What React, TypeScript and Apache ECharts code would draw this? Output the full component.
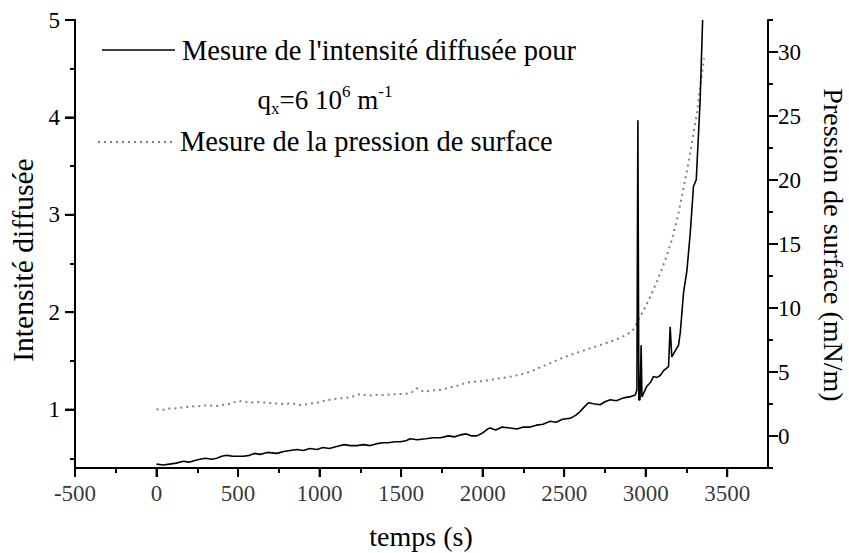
import React, { useEffect, useRef } from "react";
import * as echarts from "echarts";

// Intensity (left axis) — time (s) and value
const intensityTime = [
  0, 40, 80, 120, 165, 200, 240, 267, 300, 340, 369, 400, 431, 470, 500, 533, 570, 600, 635, 680,
  738, 780, 820, 860, 900, 940, 983, 1020, 1060, 1105, 1150, 1190, 1228, 1270, 1310, 1351, 1390, 1422, 1460, 1494,
  1530, 1555, 1600, 1650, 1698, 1740, 1790, 1830, 1862, 1900, 1930, 1964, 2000, 2030, 2046, 2080, 2120, 2169, 2210, 2250,
  2291, 2330, 2370, 2414, 2450, 2490, 2537, 2570, 2598, 2625, 2649, 2680, 2721, 2750, 2782, 2820, 2864, 2900, 2936, 2946,
  2952, 2958, 2965, 2972, 2977, 3007, 3030, 3048, 3070, 3089, 3110, 3140, 3150, 3160, 3180, 3201, 3212, 3232, 3253, 3273,
  3293, 3310, 3324, 3334, 3349,
];
const intensityValue = [
  0.44, 0.43, 0.44, 0.45, 0.47, 0.46, 0.48, 0.49, 0.50, 0.49, 0.50, 0.52, 0.53, 0.52, 0.52, 0.52, 0.53, 0.55, 0.54, 0.56,
  0.55, 0.57, 0.58, 0.59, 0.58, 0.60, 0.59, 0.61, 0.60, 0.62, 0.64, 0.63, 0.63, 0.64, 0.63, 0.65, 0.66, 0.66, 0.67, 0.67,
  0.68, 0.70, 0.69, 0.70, 0.71, 0.71, 0.73, 0.72, 0.74, 0.75, 0.73, 0.73, 0.76, 0.80, 0.81, 0.79, 0.82, 0.81, 0.80, 0.82,
  0.82, 0.84, 0.85, 0.88, 0.87, 0.90, 0.91, 0.94, 0.98, 1.03, 1.07, 1.06, 1.05, 1.08, 1.10, 1.09, 1.12, 1.13, 1.15, 1.20,
  3.97, 1.10, 1.10, 1.66, 1.13, 1.24, 1.28, 1.34, 1.33, 1.35, 1.40, 1.44, 1.85, 1.54, 1.60, 1.66, 1.79, 2.20, 2.43, 2.81,
  3.29, 3.36, 3.84, 4.18, 5.0,
];

// Surface pressure (right axis) — time (s) and value (mN/m)
const pressureTime = [
  0, 40, 80, 124, 170, 210, 267, 310, 369, 420, 460, 492, 530, 574, 620, 676, 720, 778, 830, 880,
  930, 983, 1030, 1075, 1130, 1187, 1248, 1300, 1350, 1391, 1440, 1484, 1530, 1570, 1596, 1637, 1690, 1739, 1800, 1850,
  1903, 1960, 2000, 2046, 2100, 2169, 2230, 2291, 2350, 2414, 2470, 2537, 2600, 2660, 2720, 2782, 2830, 2864, 2900, 2926,
  2966, 3018, 3069, 3120, 3160, 3201, 3242, 3273, 3293, 3314, 3334, 3358,
];
const pressureValue = [
  2.09, 2.05, 2.15, 2.16, 2.25, 2.30, 2.34, 2.40, 2.34, 2.45, 2.55, 2.73, 2.70, 2.60, 2.65, 2.60, 2.55, 2.50, 2.55, 2.42,
  2.50, 2.60, 2.75, 2.87, 2.95, 3.02, 3.28, 3.15, 3.22, 3.20, 3.25, 3.28, 3.30, 3.45, 3.73, 3.46, 3.55, 3.59, 3.80, 3.95,
  4.17, 4.25, 4.30, 4.38, 4.50, 4.63, 4.80, 5.02, 5.35, 5.68, 6.00, 6.33, 6.60, 6.85, 7.10, 7.37, 7.60, 7.80, 8.05, 8.35,
  9.32, 10.6, 12.06, 13.75, 15.31, 17.4, 20.0, 22.1, 23.65, 25.2, 27.3, 29.5,
];

// Tick values
const xMajorTicks = [-500, 0, 500, 1000, 1500, 2000, 2500, 3000, 3500];
const xMinorTicks = [-250, 250, 750, 1250, 1750, 2250, 2750, 3250];
const leftMajorTicks = [1, 2, 3, 4, 5];
const leftMinorTicks = [0.5, 1.5, 2.5, 3.5, 4.5];
const rightMajorTicks = [0, 5, 10, 15, 20, 25, 30];
const rightMinorTicks = [-2.5, 2.5, 7.5, 12.5, 17.5, 22.5, 27.5, 32.5];

const FONT = '"Liberation Serif", "Times New Roman", serif';
const X_MIN = -500, X_MAX = 3750;
const L_MIN = 0.4, L_MAX = 5;
const R_MIN = -2.5, R_MAX = 32.5;

const mkLine = (show: boolean) => ({ show, onZero: false, lineStyle: { color: "#000", width: 2 } });
const mkTick = (values: number[], length: number) => ({
  show: true, length, customValues: values, lineStyle: { color: "#000", width: 2 },
});
const mkLabel = (values: number[], margin: number) => ({
  show: true, color: "#000", fontSize: 23, fontFamily: FONT, margin, customValues: values,
});

const baseGraphic = [
  { type: "line", shape: { x1: 102, y1: 50, x2: 175, y2: 50 }, style: { stroke: "#000", lineWidth: 1.5 } },
  {
    type: "text", x: 182, y: 50,
    style: { text: "Mesure de l'intensité diffusée pour", fontSize: 28.5, fontFamily: FONT, fill: "#000", textVerticalAlign: "middle" },
  },
  {
    type: "text", x: 325, y: 100,
    style: {
      text: "{b|q}{sub|x}{b|=6 10}{sup|6}{b| m}{sup|-1}",
      fill: "#000", fontFamily: FONT, fontSize: 27,
      textAlign: "center", textVerticalAlign: "middle",
      rich: {
        b: { fontSize: 27, lineHeight: 34, fontFamily: FONT, fill: "#000" },
        sub: { fontSize: 17, lineHeight: 17, fontFamily: FONT, fill: "#000", verticalAlign: "bottom" },
        sup: { fontSize: 17, lineHeight: 17, fontFamily: FONT, fill: "#000", verticalAlign: "top" },
      },
    },
  },
  { type: "line", shape: { x1: 98, y1: 142, x2: 172, y2: 142 }, style: { stroke: "#808080", lineWidth: 2, lineDash: [2, 4] } },
  {
    type: "text", x: 180, y: 141,
    style: { text: "Mesure de la pression de surface", fontSize: 28.5, fontFamily: FONT, fill: "#000", textVerticalAlign: "middle" },
  },
  {
    type: "text", x: 23, y: 260, rotation: Math.PI / 2,
    style: { text: "Intensité diffusée", fontSize: 29.5, fontFamily: FONT, fill: "#000", textAlign: "center", textVerticalAlign: "middle" },
  },
  {
    type: "text", x: 833, y: 245, rotation: -Math.PI / 2,
    style: { text: "Pression de surface (mN/m)", fontSize: 28, fontFamily: FONT, fill: "#000", textAlign: "center", textVerticalAlign: "middle" },
  },
  {
    type: "text", x: 421, y: 536,
    style: { text: "temps (s)", fontSize: 28, fontFamily: FONT, fill: "#000", textAlign: "center", textVerticalAlign: "middle" },
  },
];

export default function App() {
  const ref = useRef<HTMLDivElement>(null);
  useEffect(() => {
    if (!ref.current) return;
    const chart = echarts.init(ref.current, null, { renderer: "svg" });
    chart.setOption({
      animation: false,
      backgroundColor: "#fff",
      grid: { left: 75, right: 81, top: 20, bottom: 85 },
      xAxis: [
        {
          type: "value", min: X_MIN, max: X_MAX, position: "bottom",
          axisLine: mkLine(true), axisTick: mkTick(xMajorTicks, 9), axisLabel: { show: false },
          splitLine: { show: false },
        },
        {
          type: "value", min: X_MIN, max: X_MAX, position: "bottom",
          axisLine: mkLine(false), axisTick: mkTick(xMinorTicks, 5), axisLabel: { show: false },
          splitLine: { show: false },
        },
      ],
      yAxis: [
        {
          type: "value", min: L_MIN, max: L_MAX, position: "left",
          axisLine: mkLine(true), axisTick: mkTick(leftMajorTicks, 10), axisLabel: mkLabel(leftMajorTicks, 15),
          splitLine: { show: false },
        },
        {
          type: "value", min: L_MIN, max: L_MAX, position: "left",
          axisLine: mkLine(true), axisTick: mkTick(leftMinorTicks, 5), axisLabel: { show: false },
          splitLine: { show: false },
        },
        {
          type: "value", min: R_MIN, max: R_MAX, position: "right",
          axisLine: mkLine(true), axisTick: mkTick(rightMajorTicks, 10), axisLabel: mkLabel(rightMajorTicks, 10),
          splitLine: { show: false },
        },
        {
          type: "value", min: R_MIN, max: R_MAX, position: "right",
          axisLine: mkLine(false), axisTick: mkTick(rightMinorTicks, 5), axisLabel: { show: false },
          splitLine: { show: false },
        },
      ],
      series: [
        {
          name: "Mesure de l'intensité diffusée pour qx=6 10^6 m^-1",
          type: "line",
          xAxisIndex: 0,
          yAxisIndex: 0,
          data: intensityTime.map((t, i) => [t, intensityValue[i]]),
          showSymbol: false,
          lineStyle: { color: "#000", width: 1.6 },
          z: 3,
        },
        {
          name: "Mesure de la pression de surface",
          type: "line",
          xAxisIndex: 0,
          yAxisIndex: 2,
          data: pressureTime.map((t, i) => [t, pressureValue[i]]),
          showSymbol: false,
          lineStyle: { color: "#808080", width: 2, type: [2, 4] },
          z: 2,
        },
        {
          name: "x tick labels",
          type: "scatter",
          xAxisIndex: 0,
          yAxisIndex: 0,
          data: xMajorTicks.map((v) => [v, L_MIN]),
          symbolSize: 0,
          clip: false,
          silent: true,
          label: {
            show: true, position: "bottom", distance: 14,
            formatter: (p: any) => String(p.value[0]),
            color: "#000", fontSize: 23, fontFamily: FONT,
          },
        },
      ],
      graphic: baseGraphic,
    });

    // Axis line and major ticks placed through the chart's own scales
    const px = (v: number) => chart.convertToPixel({ xAxisIndex: 0 }, v) as number;
    const pyL = (v: number) => chart.convertToPixel({ yAxisIndex: 0 }, v) as number;
    const pyR = (v: number) => chart.convertToPixel({ yAxisIndex: 2 }, v) as number;
    const xl = px(X_MIN), xr = px(X_MAX), yTop = pyL(L_MAX), yBot = pyL(L_MIN);
    const stroke = { stroke: "#000", lineWidth: 2 };
    const extra: any[] = [
      { type: "line", shape: { x1: xl, y1: yTop, x2: xl, y2: yBot + 1 }, style: stroke },
      ...leftMajorTicks.map((v) => ({ type: "line", shape: { x1: xl - 10, y1: pyL(v), x2: xl, y2: pyL(v) }, style: stroke })),
      ...rightMajorTicks.map((v) => ({ type: "line", shape: { x1: xr, y1: pyR(v), x2: xr + 10, y2: pyR(v) }, style: stroke })),
      ...xMajorTicks.map((v) => ({ type: "line", shape: { x1: px(v), y1: yBot, x2: px(v), y2: yBot + 9 }, style: stroke })),
    ];
    chart.setOption({ graphic: [...baseGraphic, ...extra] });
    return () => chart.dispose();
  }, []);
  return <div ref={ref} style={{ position: "fixed", left: 0, top: 0, width: 849, height: 553 }} />;
}
